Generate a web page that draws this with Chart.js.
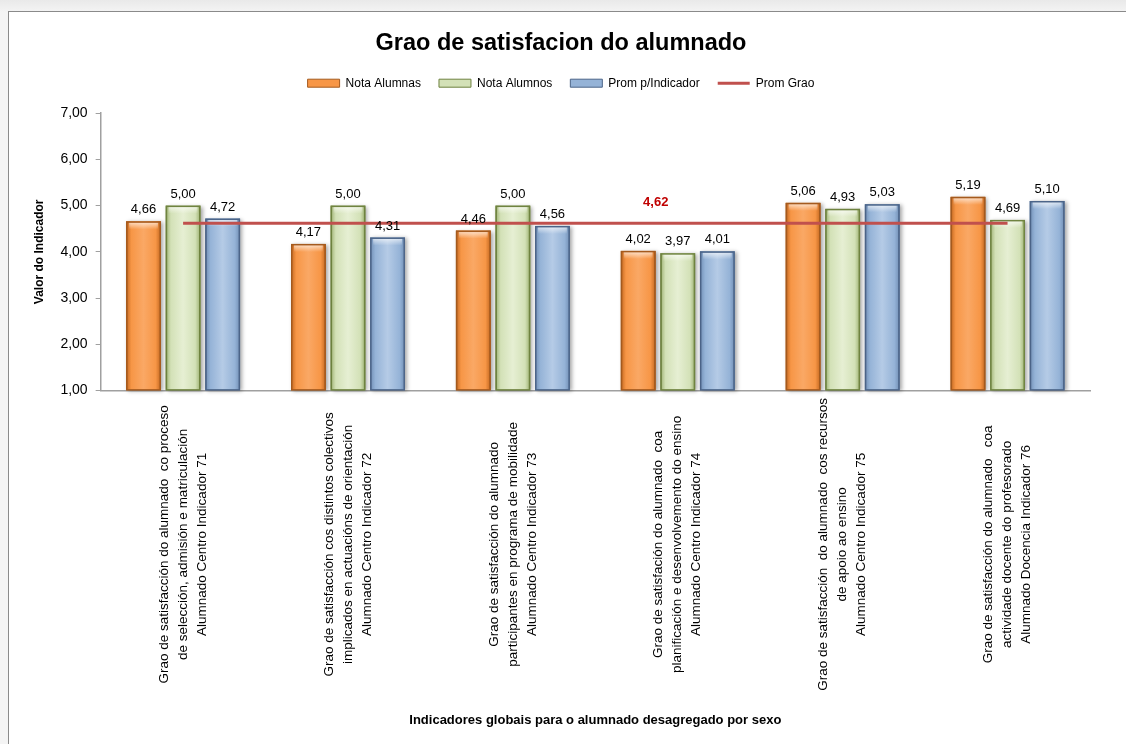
<!DOCTYPE html>
<html>
<head>
<meta charset="utf-8">
<script src="https://cdn.jsdelivr.net/npm/chart.js@4.4.1/dist/chart.umd.min.js"></script>
<style>
  html, body { margin: 0; padding: 0; }
  body { width: 1126px; height: 744px; background: linear-gradient(#e9e9e9, #f4f4f4 12px); position: relative; overflow: hidden; }
  #frame { position: absolute; left: 8px; top: 11px; width: 1118px; height: 733px; background: #fff; border-left: 1px solid #8a8a8a; border-top: 1px solid #8a8a8a; box-sizing: border-box; }
  #wrap { position: absolute; left: 1px; top: 1px; width: 1116px; height: 731px; }
</style>
</head>
<body>
<div id="frame"><div id="wrap"><canvas id="c"></canvas></div></div>
<script>
const categories = [
  ["Grao de satisfacción do alumnado  co proceso", "de selección, admisión e matriculación", "Alumnado Centro Indicador 71"],
  ["Grao de satisfacción cos distintos colectivos", "implicados en actuacións de orientación", "Alumnado Centro Indicador 72"],
  ["Grao de satisfacción do alumnado", "participantes en programa de mobilidade", "Alumnado Centro Indicador 73"],
  ["Grao de satisfación do alumnado  coa", "planificación e desenvolvemento do ensino", "Alumnado Centro Indicador 74"],
  ["Grao de satisfacción  do alumnado  cos recursos", "de apoio ao ensino", "Alumnado Centro Indicador 75"],
  ["Grao de satisfacción do alumnado   coa", "actividade docente do profesorado", "Alumnado Docencia Indicador 76"]
];
const notaAlumnas = [4.66, 4.17, 4.46, 4.02, 5.06, 5.19];
const notaAlumnos = [5.00, 5.00, 5.00, 3.97, 4.93, 4.69];
const promIndicador = [4.72, 4.31, 4.56, 4.01, 5.03, 5.10];
const promGrao = [4.62, 4.62, 4.62, 4.62, 4.62, 4.62];
const seriesNames = ["Nota Alumnas", "Nota Alumnos", "Prom p/Indicador", "Prom Grao"];
const chartTitle = "Grao de satisfacion do alumnado";
const yAxisTitle = "Valor do Indicador";
const xAxisTitle = "Indicadores globais para o alumnado desagregado por sexo";
const yMin = 1, yMax = 7, yStep = 1;

const fmt = v => v.toFixed(2).replace('.', ',');
const FONT = '"Liberation Sans", Arial, sans-serif';

const barLooks = [
  { fill: '#F79646', light: '#FAA865', edge: '#C3671F', border: '#A45A1E' },
  { fill: '#D3E1B7', light: '#E6EFD3', edge: '#9CB070', border: '#6F8340' },
  { fill: '#95B3D7', light: '#B5CBE6', edge: '#6F8DB4', border: '#4C6589' }
];

const barShading = {
  id: 'barShading',
  afterDatasetDraw(chart, args) {
    const i = args.index;
    if (i > 2) return;
    const look = barLooks[i];
    const ctx = chart.ctx;
    args.meta.data.forEach(el => {
      const p = el.getProps(['x', 'y', 'base', 'width'], true);
      const l = p.x - p.width / 2, r = p.x + p.width / 2, t = p.y, b = p.base;
      ctx.save();
      ctx.shadowColor = 'rgba(0,0,0,0.35)';
      ctx.shadowBlur = 4;
      ctx.shadowOffsetX = 2;
      ctx.shadowOffsetY = 1;
      const g = ctx.createLinearGradient(l, 0, r, 0);
      g.addColorStop(0, look.edge);
      g.addColorStop(0.15, look.fill);
      g.addColorStop(0.5, look.light);
      g.addColorStop(0.85, look.fill);
      g.addColorStop(1, look.edge);
      ctx.fillStyle = g;
      ctx.fillRect(l, t, r - l, b - t);
      ctx.restore();
      ctx.save();
      const hg = ctx.createLinearGradient(0, t, 0, t + 8);
      hg.addColorStop(0, 'rgba(255,255,255,0.75)');
      hg.addColorStop(1, 'rgba(255,255,255,0)');
      ctx.fillStyle = hg;
      ctx.fillRect(l + 3, t + 1, r - l - 6, 8);
      ctx.strokeStyle = look.border;
      ctx.lineWidth = 1.5;
      ctx.strokeRect(l + 0.75, t + 0.75, r - l - 1.5, b - t - 0.75);
      ctx.restore();
    });
  }
};

const legendMargin = {
  id: 'legendMargin',
  beforeInit(chart) {
    const lg = chart.legend;
    if (!lg) return;
    const fit = lg.fit;
    lg.fit = function () { fit.call(lg); lg.height += 14; };
  }
};

const labelsPlugin = {
  id: 'labelsPlugin',
  afterDraw(chart) {
    const ctx = chart.ctx;
    const xs = chart.scales.x;
    const area = chart.chartArea;
    ctx.save();
    ctx.font = '13px ' + FONT;
    ctx.fillStyle = '#000';
    ctx.textAlign = 'center';
    ctx.textBaseline = 'bottom';
    for (let d = 0; d < 3; d++) {
      const meta = chart.getDatasetMeta(d);
      const vals = chart.data.datasets[d].data;
      meta.data.forEach((el, k) => {
        ctx.fillText(fmt(vals[k]), el.x, el.y - 5);
      });
    }
    const lm = chart.getDatasetMeta(3);
    const pt = lm.data[3];
    ctx.font = 'bold 13px ' + FONT;
    ctx.fillStyle = '#C00000';
    ctx.fillText(fmt(promGrao[3]), pt.x - 22, pt.y - 14);
    ctx.font = '13.5px ' + FONT;
    ctx.fillStyle = '#000';
    ctx.textAlign = 'center';
    ctx.textBaseline = 'middle';
    const lineH = 19;
    categories.forEach((lines, k) => {
      const x = xs.getPixelForValue(k);
      const cy = area.bottom + 154;
      ctx.save();
      ctx.translate(x, cy);
      ctx.rotate(-Math.PI / 2);
      lines.forEach((ln, j) => {
        ctx.fillText(ln, 0, (j - (lines.length - 1) / 2) * lineH);
      });
      ctx.restore();
    });
    ctx.restore();
  }
};

new Chart(document.getElementById('c'), {
  data: {
    labels: categories.map(c => c.join(' ')),
    datasets: [
      { type: 'bar', label: seriesNames[0], data: notaAlumnas, base: yMin, backgroundColor: barLooks[0].fill, borderColor: barLooks[0].border, borderWidth: 1, order: 2 },
      { type: 'bar', label: seriesNames[1], data: notaAlumnos, base: yMin, backgroundColor: barLooks[1].fill, borderColor: barLooks[1].border, borderWidth: 1, order: 2 },
      { type: 'bar', label: seriesNames[2], data: promIndicador, base: yMin, backgroundColor: barLooks[2].fill, borderColor: barLooks[2].border, borderWidth: 1, order: 2 },
      { type: 'line', label: seriesNames[3], data: promGrao, borderColor: '#C0504D', backgroundColor: '#C0504D', borderWidth: 3, pointRadius: 0, pointHoverRadius: 0, order: 1 }
    ]
  },
  options: {
    responsive: true,
    maintainAspectRatio: false,
    animation: false,
    events: [],
    categoryPercentage: 0.72,
    barPercentage: 0.88,
    layout: { padding: { left: 22, right: 36, top: 8, bottom: 12 } },
    plugins: {
      title: {
        display: true, text: chartTitle, color: '#000',
        font: { family: FONT, size: 23.5, weight: 'bold' },
        padding: { top: 8, bottom: 2 }
      },
      legend: {
        display: true,
        labels: {
          color: '#000',
          font: { family: FONT, size: 12 },
          usePointStyle: true,
          pointStyleWidth: 32,
          boxHeight: 8,
          padding: 18,
          generateLabels(chart) {
            return chart.data.datasets.map((ds, i) => ({
              text: ds.label,
              fillStyle: ds.backgroundColor,
              strokeStyle: ds.borderColor,
              lineWidth: i === 3 ? 3 : 1,
              pointStyle: i === 3 ? 'line' : 'rect',
              datasetIndex: i,
              hidden: false,
              fontColor: '#000'
            }));
          }
        }
      },
      tooltip: { enabled: false }
    },
    scales: {
      x: {
        offset: true,
        ticks: { display: false },
        grid: { display: false },
        border: { display: true, color: '#a0a0a0', width: 1.5 },
        title: {
          display: true, text: xAxisTitle, color: '#000',
          font: { family: FONT, size: 13, weight: 'bold' },
          padding: { top: 314, bottom: 4 }
        }
      },
      y: {
        min: yMin, max: yMax,
        ticks: {
          stepSize: yStep, color: '#000', padding: 8,
          font: { family: FONT, size: 14 },
          callback: v => fmt(v)
        },
        grid: { drawOnChartArea: false, drawTicks: true, tickLength: 5, color: '#a0a0a0' },
        border: { display: true, color: '#a0a0a0', width: 1.5 },
        title: {
          display: true, text: yAxisTitle, color: '#000',
          font: { family: FONT, size: 12, weight: 'bold' },
          padding: { top: 0, bottom: 6 }
        }
      }
    }
  },
  plugins: [barShading, legendMargin, labelsPlugin]
});
</script>
</body>
</html>
